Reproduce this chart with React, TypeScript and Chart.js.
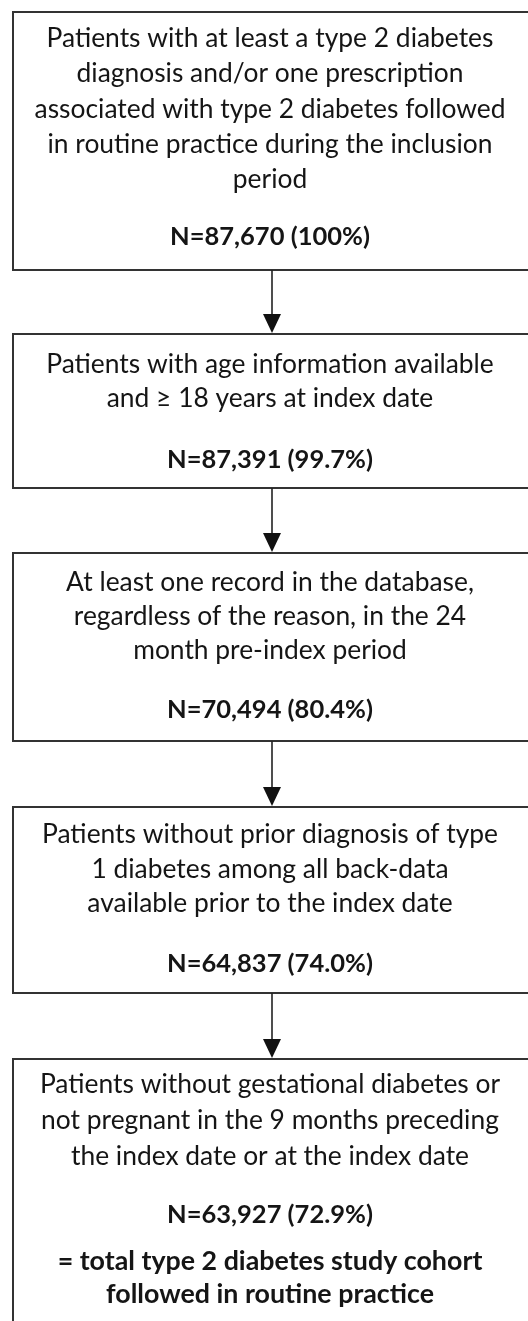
import React, { useEffect, useRef } from "react";
import { Chart, registerables } from "chart.js";

Chart.register(...registerables);

// ---- Data ----
const stepLabels: string[][] = [
  [
    "Patients with at least a type 2 diabetes",
    "diagnosis and/or one prescription",
    "associated with type 2 diabetes followed",
    "in routine practice during the inclusion",
    "period",
  ],
  ["Patients with age information available", "and \u2265 18 years at index date"],
  [
    "At least one record in the database,",
    "regardless of the reason, in the 24",
    "month pre-index period",
  ],
  [
    "Patients without prior diagnosis of type",
    "1 diabetes among all back-data",
    "available prior to the index date",
  ],
  [
    "Patients without gestational diabetes or",
    "not pregnant in the 9 months preceding",
    "the index date or at the index date",
  ],
];
const stepCounts: number[] = [87670, 87391, 70494, 64837, 63927];
const stepPercents: number[] = [100, 99.7, 80.4, 74.0, 72.9];
const finalNote: string[] = ["= total type 2 diabetes study cohort", "followed in routine practice"];

// ---- Layout (image coordinates, mapped through the chart's scales) ----
const W = 528;
const H = 1321;
const boxLeft = 13;
const boxRight = 540;
const arrowX = 272;
const boxTop = [12, 334, 553, 807, 1059];
const boxBottom = [270, 488, 741, 993, 1340];
const firstBaseline = [47, 373, 591, 843, 1093];
const lineGap = [35.3, 34, 34, 34.5, 36];
const countBaseline = [245, 468, 718, 972, 1223];
const noteBaseline = [1270, 1303];
const textCenterX = 270;

const FONT = "Lato, 'Open Sans', sans-serif";

function fmtCount(n: number) {
  return n.toLocaleString("en-US");
}
function fmtPct(p: number) {
  return p === 100 ? "100%" : p.toFixed(1) + "%";
}

const flowPlugin = {
  id: "flow",
  afterDraw(chart: any) {
    const ctx: CanvasRenderingContext2D = chart.ctx;
    const xs = chart.scales.x;
    const ys = chart.scales.y;
    const px = (v: number) => xs.getPixelForValue(v);
    const py = (v: number) => ys.getPixelForValue(v);
    ctx.save();
    ctx.fillStyle = "#ffffff";
    ctx.fillRect(0, 0, chart.width, chart.height);

    // boxes
    ctx.strokeStyle = "#333333";
    ctx.lineWidth = 2;
    for (let i = 0; i < stepLabels.length; i++) {
      const x0 = px(boxLeft);
      const x1 = px(boxRight);
      const y0 = py(boxTop[i]);
      const y1 = py(boxBottom[i]);
      ctx.strokeRect(x0, y0, x1 - x0, y1 - y0);
    }

    // arrows
    for (let i = 0; i < stepLabels.length - 1; i++) {
      const x = px(arrowX);
      const yStart = py(boxBottom[i]);
      const yTip = py(boxTop[i + 1]) - 1;
      const headH = 19;
      const headW = 9;
      ctx.strokeStyle = "#222222";
      ctx.lineWidth = 1.6;
      ctx.beginPath();
      ctx.moveTo(x, yStart);
      ctx.lineTo(x, yTip - headH + 2);
      ctx.stroke();
      ctx.fillStyle = "#111111";
      ctx.beginPath();
      ctx.moveTo(x - headW, yTip - headH);
      ctx.lineTo(x + headW, yTip - headH);
      ctx.lineTo(x, yTip);
      ctx.closePath();
      ctx.fill();
    }

    // texts
    ctx.textAlign = "center";
    ctx.textBaseline = "alphabetic";
    ctx.fillStyle = "#151515";
    const cx = px(textCenterX);
    for (let i = 0; i < stepLabels.length; i++) {
      ctx.font = `400 26.4px ${FONT}`;
      stepLabels[i].forEach((line, j) => {
        ctx.fillText(line, cx, py(firstBaseline[i] + j * lineGap[i]));
      });
      ctx.font = `700 25.5px ${FONT}`;
      ctx.fillText(`N=${fmtCount(stepCounts[i])} (${fmtPct(stepPercents[i])})`, cx, py(countBaseline[i]));
    }
    ctx.font = `700 26.8px ${FONT}`;
    finalNote.forEach((line, j) => ctx.fillText(line, cx, py(noteBaseline[j])));
    ctx.restore();
  },
};

export default function App() {
  const ref = useRef<HTMLCanvasElement | null>(null);
  useEffect(() => {
    document.body.style.margin = "0";
    if (!ref.current) return;
    const chart = new Chart(ref.current, {
      type: "scatter",
      data: { datasets: [{ data: [] }] },
      options: {
        animation: false,
        responsive: false,
        maintainAspectRatio: false,
        layout: { padding: 0 },
        plugins: { legend: { display: false }, tooltip: { enabled: false } },
        scales: {
          x: { type: "linear", min: 0, max: W, display: false },
          y: { type: "linear", min: 0, max: H, reverse: true, display: false },
        },
      },
      plugins: [flowPlugin],
    });
    return () => chart.destroy();
  }, []);
  return (
    <div style={{ width: W, height: H, background: "#fff" }}>
      <canvas ref={ref} width={W} height={H} style={{ display: "block" }} />
    </div>
  );
}
